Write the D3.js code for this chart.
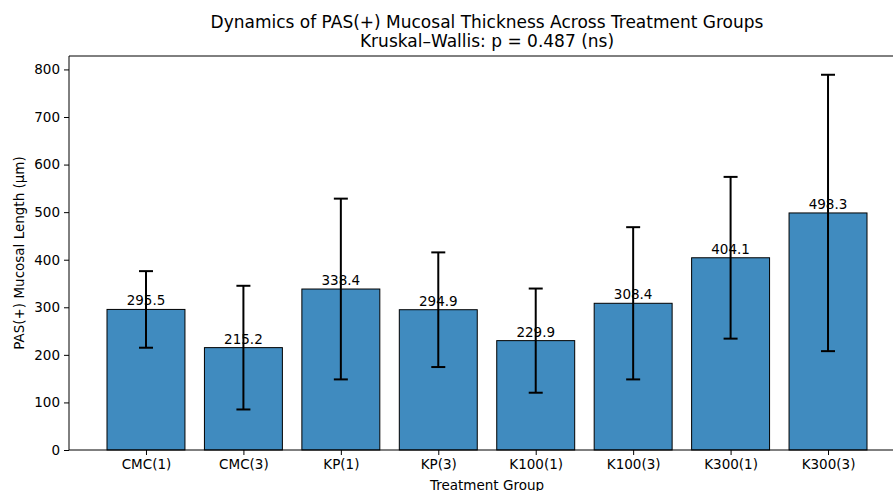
<!DOCTYPE html>
<html>
<head>
<meta charset="utf-8">
<script src="https://cdn.jsdelivr.net/npm/d3@7"></script>
<style>
	body { margin: 0; background: #fff; }
	svg { display: block; overflow: hidden; }
	text { font-family: "DejaVu Sans", sans-serif; fill: #000; }
	.axis path, .axis line { stroke: #000; stroke-width: 1; }
	.axis text { font-size: 13.5px; }
</style>
</head>
<body>
<svg id="graph"></svg>
<script>
// data
var groups = ["CMC(1)", "CMC(3)", "KP(1)", "KP(3)", "K100(1)", "K100(3)", "K300(1)", "K300(3)"],
	means = [295.5, 215.2, 338.4, 294.9, 229.9, 308.4, 404.1, 498.3],
	sds = [80.5, 130, 190, 120.5, 109.5, 160, 170, 290.5],
	yTicks = [0, 100, 200, 300, 400, 500, 600, 700, 800];

var titleText = "Dynamics of PAS(+) Mucosal Thickness Across Treatment Groups",
	subtitleText = "Kruskal\u2013Wallis: p = 0.487 (ns)",
	xLabel = "Treatment Group",
	yLabel = "PAS(+) Mucosal Length (\u03bcm)";

var margin = {top: 56, left: 69, right: -12, bottom: 41},
	W = 893, H = 491,
	width = W - margin.left - margin.right,
	height = H - margin.top - margin.bottom,
	graph = d3.select("#graph").attr("width", W).attr("height", H),
	g = graph.append("g").attr("transform", "translate(" + margin.left + "," + margin.top + ")");

//scales, with matplotlib-like 5% padding
var n = groups.length,
	xPad = 0.05 * (n - 1 + 0.8),
	yMax = d3.max(means, function(d, i) { return d + sds[i]; }) * 1.05;

var x = d3.scaleLinear().domain([-0.4 - xPad, n - 1 + 0.4 + xPad]).range([0, width]),
	y = d3.scaleLinear().domain([0, yMax]).range([height, 0]);

var xAxis = d3.axisBottom(x).tickValues(d3.range(n)).tickFormat(function(i) { return groups[i]; }).tickSize(5).tickPadding(4),
	yAxis = d3.axisLeft(y).tickValues(yTicks).tickSize(5).tickPadding(4);

//bars
g.append("g")
	.selectAll("rect")
	.data(means)
	.enter().append("rect")
		.attr("x", function(d, i) { return x(i - 0.4); })
		.attr("y", function(d) { return y(d); })
		.attr("width", function(d, i) { return x(i + 0.4) - x(i - 0.4); })
		.attr("height", function(d) { return height - y(d); })
		.attr("fill", "#1f77b4")
		.attr("fill-opacity", 0.85)
		.attr("stroke", "#000")
		.attr("stroke-width", 1);

//value labels
g.append("g")
	.selectAll("text")
	.data(means)
	.enter().append("text")
		.attr("x", function(d, i) { return x(i); })
		.attr("y", function(d) { return y(d) - 4; })
		.attr("text-anchor", "middle")
		.style("font-size", "13.5px")
		.text(function(d) { return d.toFixed(1); });

//error bars
var eb = g.append("g").attr("stroke", "#000").attr("stroke-width", 2);
means.forEach(function(m, i) {
	var cx = x(i), lo = y(m - sds[i]), hi = y(m + sds[i]);
	eb.append("line").attr("x1", cx).attr("x2", cx).attr("y1", lo).attr("y2", hi);
	eb.append("line").attr("x1", cx - 7).attr("x2", cx + 7).attr("y1", lo).attr("y2", lo);
	eb.append("line").attr("x1", cx - 7).attr("x2", cx + 7).attr("y1", hi).attr("y2", hi);
});

//axes
g.append("g")
	.attr("class", "axis xaxis")
	.attr("transform", "translate(0," + height + ")")
	.call(xAxis)
	.call(function(s) { s.select(".domain").attr("d", "M0,0H" + width); });

g.append("g")
	.attr("class", "axis yaxis")
	.call(yAxis)
	.call(function(s) { s.select(".domain").attr("d", "M0," + height + "V0"); });

//top spine
g.append("line")
	.attr("x1", 0).attr("x2", width).attr("y1", 0).attr("y2", 0)
	.attr("stroke", "#000");

//labels
var cx = width / 2;
g.append("text")
	.attr("x", cx).attr("y", height + 40)
	.attr("text-anchor", "middle")
	.style("font-size", "13.5px")
	.text(xLabel);

g.append("text")
	.attr("transform", "translate(-45," + (height / 2) + ") rotate(-90)")
	.attr("text-anchor", "middle")
	.style("font-size", "13.5px")
	.text(yLabel);

g.append("text")
	.attr("x", cx).attr("y", -28)
	.attr("text-anchor", "middle")
	.style("font-size", "17px")
	.text(titleText);

g.append("text")
	.attr("x", cx).attr("y", -9)
	.attr("text-anchor", "middle")
	.style("font-size", "17px")
	.text(subtitleText);
</script>
</body>
</html>
